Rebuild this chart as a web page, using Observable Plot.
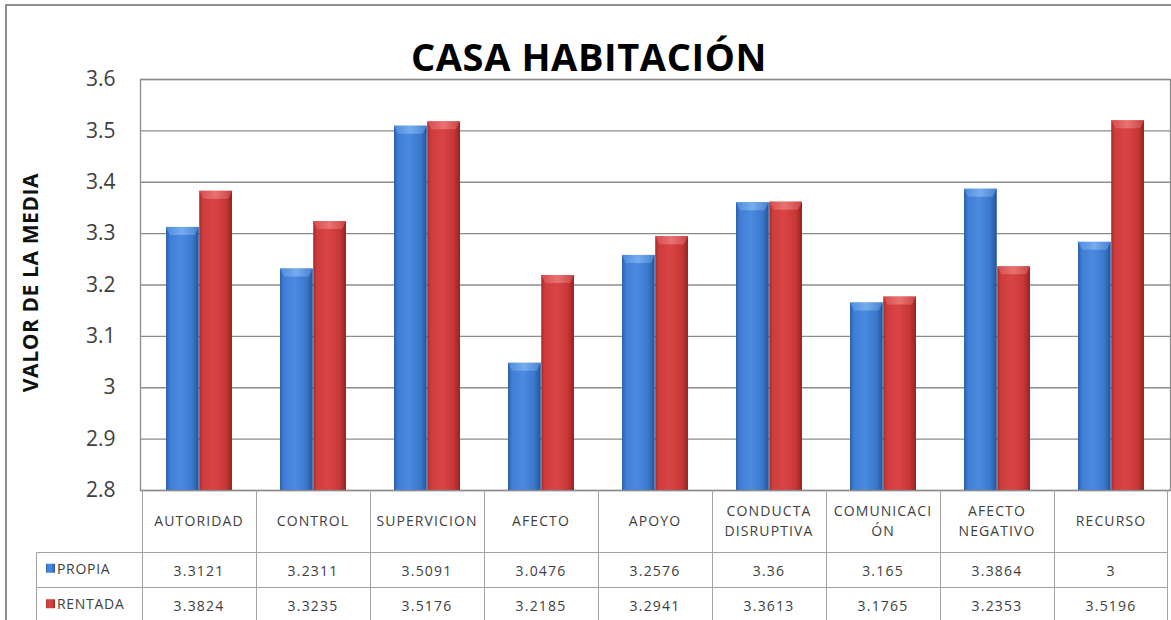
<!DOCTYPE html>
<html>
<head>
<meta charset="utf-8">
<script src="https://cdn.jsdelivr.net/npm/d3@7"></script>
<script src="https://cdn.jsdelivr.net/npm/@observablehq/plot@0.6"></script>
<style>
  html, body { margin: 0; padding: 0; background: #fff; overflow: hidden; }
  #wrap { position: relative; width: 1171px; height: 620px; overflow: hidden; }
  #border { position: absolute; left: 5px; top: 4px; width: 1300px; height: 800px; border: 2px solid #8e8e8e; box-sizing: border-box; }
  #chart { position: absolute; left: 0; top: 0; }
  #title { position: absolute; left: 5px; width: 1168px; top: 30px; line-height: 52px; text-align: center;
           font-family: "Open Sans", sans-serif; font-weight: 700; font-size: 38px; color: #000; letter-spacing: 0.6px; }
</style>
</head>
<body>
<div id="wrap">
  <div id="border"></div>
  <div id="chart"></div>
  <div id="title">CASA HABITACIÓN</div>
</div>
<script>
const categories = ["AUTORIDAD","CONTROL","SUPERVICION","AFECTO","APOYO","CONDUCTA DISRUPTIVA","COMUNICACIÓN","AFECTO NEGATIVO","RECURSO"];
const categoryLabelLines = [["AUTORIDAD"],["CONTROL"],["SUPERVICION"],["AFECTO"],["APOYO"],["CONDUCTA","DISRUPTIVA"],["COMUNICACI","ÓN"],["AFECTO","NEGATIVO"],["RECURSO"]];
const seriesNames = ["PROPIA","RENTADA"];
const propia = [3.3121, 3.2311, 3.5091, 3.0476, 3.2576, 3.36, 3.165, 3.3864, 3.283];
const rentada = [3.3824, 3.3235, 3.5176, 3.2185, 3.2941, 3.3613, 3.1765, 3.2353, 3.5196];
const propiaTableLabels = ["3.3121","3.2311","3.5091","3.0476","3.2576","3.36","3.165","3.3864","3"];
const rentadaTableLabels = ["3.3824","3.3235","3.5176","3.2185","3.2941","3.3613","3.1765","3.2353","3.5196"];
const yDomain = [2.8, 3.6];
const yTicks = [2.8, 2.9, 3.0, 3.1, 3.2, 3.3, 3.4, 3.5, 3.6];
const yTickLabels = ["2.8","2.9","3","3.1","3.2","3.3","3.4","3.5","3.6"];
const yTitle = "VALOR DE LA MEDIA";

const dataP = categories.map((c, i) => ({cat: c, value: propia[i]}));
const dataR = categories.map((c, i) => ({cat: c, value: rentada[i]}));

const W = 1171, H = 620, mL = 140, mR = 1, mT = 79, mB = 130;
const bw = (W - mL - mR) / categories.length;
const gap = 24;
const FONT = "'Open Sans', sans-serif";
const gridColor = "#8c8c8c";
const tableColor = "#a3a3a3";
const textColor = "#404040";

const plot = Plot.plot({
  width: W, height: H,
  marginTop: mT, marginBottom: mB, marginLeft: mL, marginRight: mR,
  style: {fontFamily: FONT, background: "transparent", overflow: "visible"},
  x: {domain: categories, padding: 0, axis: null},
  y: {domain: yDomain, axis: null},
  marks: [
    Plot.gridY(yTicks, {stroke: gridColor, strokeOpacity: 1, strokeWidth: 1.3}),
    Plot.axisY(yTicks, {tickSize: 0, tickPadding: 25, fontSize: 21, fill: textColor,
      tickFormat: (d, i) => yTickLabels[i], label: null}),
    Plot.barY(dataP, {x: "cat", y1: yDomain[0], y2: "value", fill: "url(#gBlue)",
      insetLeft: gap, insetRight: bw / 2, className: "bars-blue"}),
    Plot.barY(dataR, {x: "cat", y1: yDomain[0], y2: "value", fill: "url(#gRed)",
      insetLeft: bw / 2, insetRight: gap, className: "bars-red"}),
    Plot.frame({stroke: gridColor, strokeWidth: 1.3})
  ]
});

const svg = d3.select(plot);
const defs = svg.insert("defs", ":first-child");
function grad(id, stops) {
  const g = defs.append("linearGradient").attr("id", id).attr("x1", "0").attr("x2", "1").attr("y1", "0").attr("y2", "0");
  stops.forEach(([o, c]) => g.append("stop").attr("offset", o).attr("stop-color", c));
}
grad("gBlue", [[0, "#2c5fab"], [0.12, "#3f7ed4"], [0.45, "#4a8ae0"], [0.8, "#3a78cc"], [1, "#275494"]]);
grad("gRed", [[0, "#a82c2c"], [0.12, "#cf3c3c"], [0.45, "#d94545"], [0.8, "#c83737"], [1, "#962323"]]);
grad("gBlueTop", [[0, "#4f8fe0"], [0.5, "#7fb2f0"], [1, "#4a86d6"]]);
grad("gRedTop", [[0, "#d95050"], [0.5, "#ec7a7a"], [1, "#cf4848"]]);

// bevelled caps on top of each rendered bar
[["bars-blue", "gBlueTop"], ["bars-red", "gRedTop"]].forEach(([cls, g]) => {
  svg.selectAll(`g.${cls} rect`).each(function () {
    const r = d3.select(this);
    const x = +r.attr("x"), y = +r.attr("y"), w = +r.attr("width");
    const h = 8, s = 4;
    d3.select(this.parentNode).append("polygon")
      .attr("points", `${x},${y} ${x + w},${y} ${x + w - s},${y + h} ${x + s},${y + h}`)
      .attr("fill", `url(#${g})`).attr("opacity", 0.85);
  });
});

const xs = plot.scale("x");
const ys = plot.scale("y");
const yBase = ys.apply(yDomain[0]);
const xRight = xs.apply(categories[categories.length - 1]) + xs.bandwidth;
const labelLeft = 36;
const row1 = yBase + 61.5, row2 = row1 + 35.5;
const tbl = svg.append("g").attr("font-family", FONT).attr("fill", textColor);

// table lines
const lines = tbl.append("g").attr("stroke", tableColor).attr("stroke-width", 1).attr("shape-rendering", "crispEdges");
categories.forEach(c => {
  const x = Math.round(xs.apply(c)) + 0.5;
  lines.append("line").attr("x1", x).attr("x2", x).attr("y1", yBase).attr("y2", H);
});
lines.append("line").attr("x1", Math.round(xRight) - 0.5).attr("x2", Math.round(xRight) - 0.5).attr("y1", yBase).attr("y2", H);
lines.append("line").attr("x1", labelLeft + 0.5).attr("x2", labelLeft + 0.5).attr("y1", row1).attr("y2", H);
[row1, row2].forEach(y => lines.append("line").attr("x1", labelLeft).attr("x2", xRight).attr("y1", Math.round(y) + 0.5).attr("y2", Math.round(y) + 0.5));

// category labels and values
categories.forEach((c, i) => {
  const cx = xs.apply(c) + xs.bandwidth / 2;
  const ls = categoryLabelLines[i];
  const cy = (yBase + row1) / 2;
  ls.forEach((t, j) => {
    tbl.append("text").attr("x", cx).attr("y", cy + (j - (ls.length - 1) / 2) * 20)
      .attr("text-anchor", "middle").attr("dominant-baseline", "central")
      .attr("font-size", 14).attr("letter-spacing", 1.1).text(t);
  });
  [[propiaTableLabels, row1, row2], [rentadaTableLabels, row2, row2 + 35.5]].forEach(([labs, a, b]) => {
    tbl.append("text").attr("x", cx).attr("y", (a + b) / 2 + 1)
      .attr("text-anchor", "middle").attr("dominant-baseline", "central")
      .attr("font-size", 14).attr("letter-spacing", 1.2).text(labs[i]);
  });
});

// row labels with keys
[["gBlue", row1, row2], ["gRed", row2, row2 + 35.5]].forEach(([g, a, b], k) => {
  const cy = (a + b) / 2 - 1;
  tbl.append("rect").attr("x", 46).attr("y", cy - 4.5).attr("width", 9).attr("height", 9).attr("fill", `url(#${g})`);
  tbl.append("text").attr("x", 57).attr("y", cy).attr("text-anchor", "start").attr("dominant-baseline", "central")
    .attr("font-size", 14).attr("letter-spacing", 0.7).text(seriesNames[k]);
});

// y title
svg.append("text").attr("transform", `translate(30,${(ys.apply(yDomain[1]) + yBase) / 2 - 2}) rotate(-90)`)
  .attr("text-anchor", "middle").attr("dominant-baseline", "central")
  .attr("font-family", FONT).attr("font-weight", 700).attr("font-size", 21).attr("letter-spacing", 0.6).attr("fill", "#111")
  .text(yTitle);

document.getElementById("chart").appendChild(plot);
</script>
</body>
</html>
